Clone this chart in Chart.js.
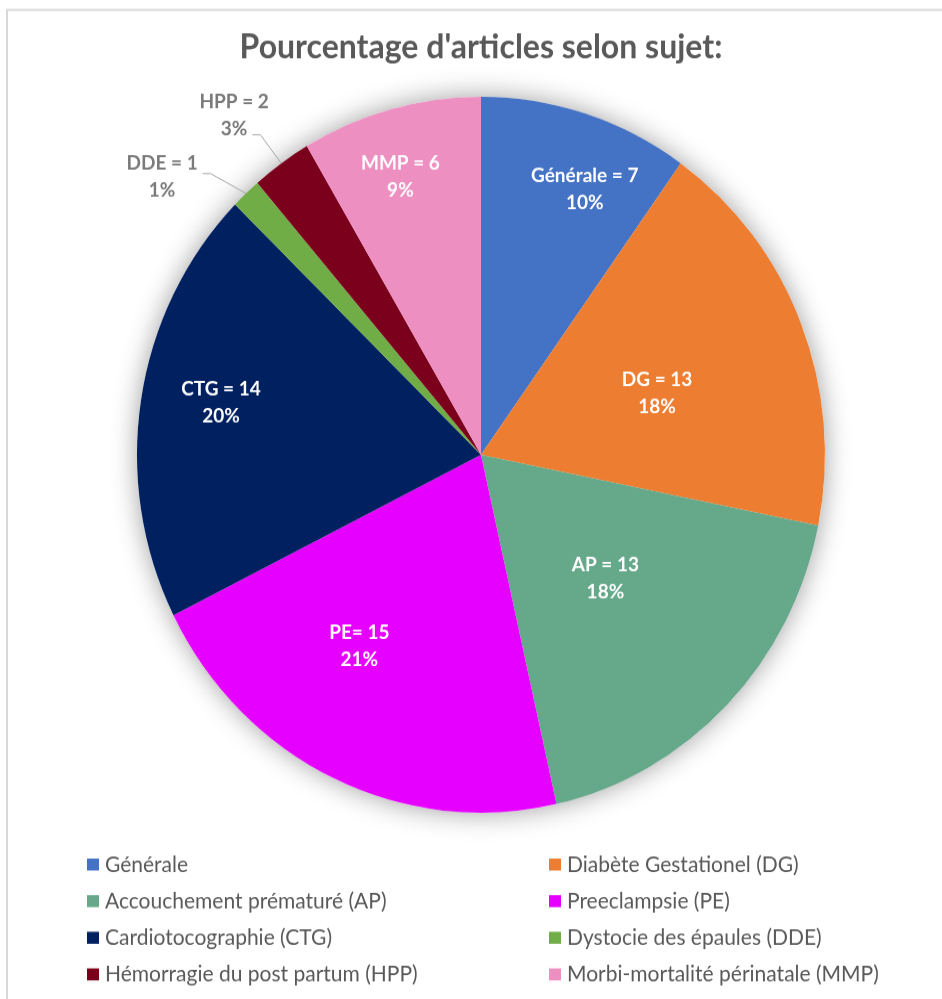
<!DOCTYPE html>
<html>
<head>
<meta charset="utf-8">
<script src="https://cdn.jsdelivr.net/npm/chart.js@4.4.0/dist/chart.umd.min.js"></script>
<style>
  html, body { margin: 0; padding: 0; background: #fff; overflow: hidden; }
  #wrap { width: 942px; height: 999px; }
  /* the reference picture is a little taller than wide, so stretch the canvas */
  #pie { display: block; transform: scaleY(1.040625); transform-origin: 0 0; }
</style>
</head>
<body>
<div id="wrap"><canvas id="pie" width="942" height="960"></canvas></div>
<script>
// Pie chart data
const categories = [
    'Générale',
    'Diabète Gestationel (DG)',
    'Accouchement prématuré (AP)',
    'Preeclampsie (PE)',
    'Cardiotocographie (CTG)',
    'Dystocie des épaules (DDE)',
    'Hémorragie du post partum (HPP)',
    'Morbi-mortalité périnatale (MMP)'
];
const codes = ['Générale ', 'DG ', 'AP ', 'PE', 'CTG ', 'DDE ', 'HPP ', 'MMP '];
const counts = [7, 13, 13, 15, 14, 1, 2, 6];
const percentLabels = ['10%', '18%', '18%', '21%', '20%', '1%', '3%', '9%'];

const colors = ['#4472C4', '#ED7D31', '#66A88A', '#E600FF', '#002060', '#70AD47', '#7A001C', '#EE8FC2'];
const FONT = 'Lato, "Open Sans", sans-serif';

// label placement: [fraction of radius, angle shift in degrees] (fraction > 1 = outside with leader)
const labelPlace = [[0.80, 4.4], [0.54, 3], [0.50, -0.7], [0.64, 8.2], [0.77, 2.1], [1.21, -6.9], [1.19, -1.6], [0.81, -1.6]];

// white background + light grey frame
const framePlugin = {
    id: 'frame',
    beforeDraw(chart) {
        const ctx = chart.ctx;
        ctx.save();
        ctx.fillStyle = '#fff';
        ctx.fillRect(0, 0, chart.width, chart.height);
        ctx.strokeStyle = '#d9d9d9';
        ctx.lineWidth = 2;
        ctx.beginPath();
        ctx.moveTo(7, chart.height + 10);
        ctx.lineTo(7, 9.6);
        ctx.lineTo(chart.width + 10, 9.6);
        ctx.stroke();
        ctx.restore();
    }
};

// soft glow under the pie
const shadowPlugin = {
    id: 'pieShadow',
    beforeDatasetsDraw(chart) {
        const arc = chart.getDatasetMeta(0).data[0];
        if (!arc) return;
        const ctx = chart.ctx;
        ctx.save();
        ctx.shadowColor = 'rgba(0, 0, 0, 0.38)';
        ctx.shadowBlur = 26;
        ctx.fillStyle = '#fff';
        ctx.beginPath();
        ctx.arc(arc.x, arc.y, arc.outerRadius, 0, Math.PI * 2);
        ctx.fill();
        ctx.restore();
    }
};

// "CODE = n / pct" labels
const sliceLabelPlugin = {
    id: 'sliceLabels',
    afterDatasetsDraw(chart) {
        const ctx = chart.ctx;
        const meta = chart.getDatasetMeta(0);
        ctx.save();
        ctx.font = `bold 19px ${FONT}`;
        ctx.textAlign = 'center';
        ctx.textBaseline = 'middle';
        meta.data.forEach((arc, i) => {
            const { x, y, startAngle, endAngle, outerRadius } = arc.getProps(['x', 'y', 'startAngle', 'endAngle', 'outerRadius'], true);
            const mid = (startAngle + endAngle) / 2;
            const [f, shift] = labelPlace[i];
            const a = mid + shift * Math.PI / 180;
            const lx = x + Math.cos(a) * outerRadius * f;
            const ly = y + Math.sin(a) * outerRadius * f;
            const lines = [codes[i] + '= ' + counts[i], percentLabels[i]];
            const lineY = [ly - 13, ly + 13];
            const outside = f > 1;
            ctx.fillStyle = outside ? '#7a7a7a' : '#ffffff';
            lines.forEach((t, k) => ctx.fillText(t, lx, lineY[k]));

            if (outside) {
                const ex = x + Math.cos(mid) * outerRadius;
                const ey = y + Math.sin(mid) * outerRadius;
                const boxTop = lineY[0] - 13, boxBottom = lineY[1] + 13;
                const ay = Math.min(Math.max(ey - 19, boxTop), boxBottom - 7);
                const k = Math.abs(ay - lineY[0]) < Math.abs(ay - lineY[1]) ? 0 : 1;
                const ax = lx + ctx.measureText(lines[k]).width / 2 + 5;
                ctx.strokeStyle = '#a6a6a6';
                ctx.lineWidth = 1;
                ctx.beginPath();
                ctx.moveTo(ax, ay);
                ctx.lineTo(ax + 8, ay);
                ctx.lineTo(ex, ey);
                ctx.stroke();
            }
        });
        ctx.restore();
    }
};

// two-column legend under the pie
const legendPlugin = {
    id: 'twoColLegend',
    afterDraw(chart) {
        const ctx = chart.ctx;
        const colX = [87, 549];
        const rowY0 = 831, rowStep = 35.2;
        ctx.save();
        ctx.font = `21px ${FONT}`;
        ctx.textAlign = 'left';
        ctx.textBaseline = 'middle';
        chart.data.labels.forEach((label, i) => {
            const bx = colX[i % 2];
            const by = rowY0 + Math.floor(i / 2) * rowStep;
            ctx.fillStyle = chart.data.datasets[0].backgroundColor[i];
            ctx.fillRect(bx, by - 6, 12, 11.5);
            ctx.fillStyle = '#595959';
            ctx.fillText(label, bx + 18, by);
        });
        ctx.restore();
    }
};

new Chart(document.getElementById('pie'), {
    type: 'pie',
    data: {
        labels: categories,
        datasets: [{
            data: counts,
            backgroundColor: colors,
            borderWidth: 0,
            hoverOffset: 0
        }]
    },
    options: {
        responsive: false,
        devicePixelRatio: 1,
        animation: false,
        events: [],
        layout: {
            padding: { top: 10, left: 137, right: 117, bottom: 179 }
        },
        plugins: {
            legend: { display: false },
            tooltip: { enabled: false },
            title: {
                display: true,
                text: "Pourcentage d'articles selon sujet:",
                color: '#595959',
                font: { family: FONT, size: 32, weight: 'bold' },
                padding: { top: 16.8, bottom: 27.8 }
            }
        }
    },
    plugins: [framePlugin, shadowPlugin, sliceLabelPlugin, legendPlugin]
});
</script>
</body>
</html>
